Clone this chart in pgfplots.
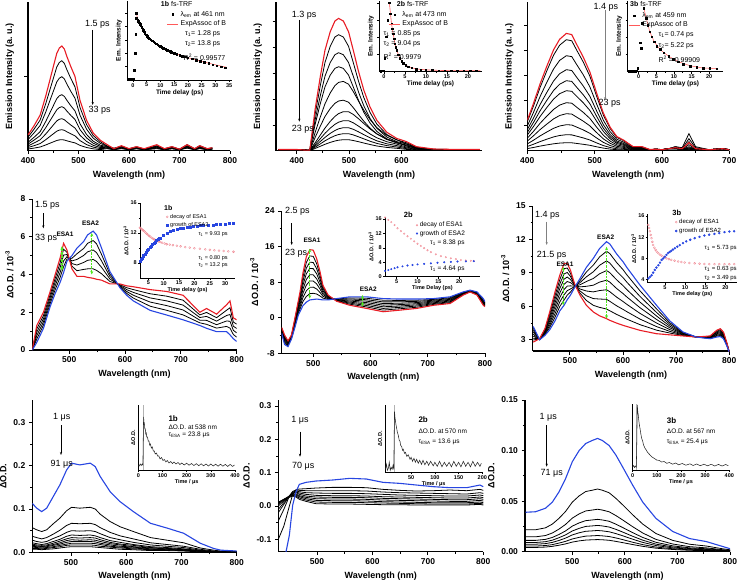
\documentclass[border=0pt]{standalone}
\usepackage{fontspec}
\setmainfont{Liberation Sans}
\usepackage{pgfplots}
\pgfplotsset{compat=1.18}
\usepackage{pgfplotstable}
\usetikzlibrary{arrows.meta}

\definecolor{myred}{RGB}{232,28,36}
\definecolor{myblue}{RGB}{40,70,225}
\definecolor{mypink}{RGB}{240,140,150}
\definecolor{mygreen}{RGB}{80,230,30}

% ---- row 1: fs-TRF emission (y in px above baseline)
\pgfplotstableread{
x r b1 b2 b3 b4 b5 b6 b7
400 15.7 13.5 11.1 8.4 6.6 4.8 3.2 1.7
412 25 21.6 17.8 13.4 10.6 7.7 5.0 2.6
424 35.6 30.6 25.2 19.0 15.0 10.9 7.1 3.7
435 54.4 46.8 38.5 29.1 22.9 16.6 10.9 5.7
443 70 60.3 49.6 37.5 29.5 21.4 14.1 7.4
450 83.8 72 59.2 44.8 35.2 25.6 16.8 8.8
457 97.4 83.7 68.8 52.1 40.9 29.8 19.5 10.2
462 102.6 88.2 72.5 54.9 43.1 31.4 20.6 10.8
467 104.7 90 74 56 44 32 21 11
472 101.6 87.3 71.8 54.3 42.7 31.0 20.4 10.7
477 94.2 81 66.6 50.4 39.6 28.8 18.9 9.9
485 83.8 72 59.2 44.8 35.2 25.6 16.8 8.8
493 74.3 63.9 52.5 39.8 31.2 22.7 14.9 7.8
503 50.3 43.2 35.5 26.9 21.1 15.4 10.1 5.3
516 30.4 26.1 21.5 16.2 12.8 9.3 6.1 3.2
529 17.8 15.3 12.6 9.5 7.5 5.4 3.6 1.9
543 10.5 9 7.4 5.6 4.4 3.2 2.1 1.1
556 6.3 5 4.5 4 3.5 3 2.5 2
570 2 2.5 2 2 1.5 1.5 1 1
585 5 4.5 4 3.5 3 3 2.5 2
600 2 2 1.5 1.5 1.5 1 1 1
615 4 4 3.5 3 3 2.5 2 2
630 2 1.5 1.5 1 1 1 1 1
655 6 5 4.5 4 3.5 3 2.5 2
670 2 2 1.5 1.5 1 1 1 1
685 4 4 3.5 3 3 2.5 2 2
700 1.5 1.5 1.5 1 1 1 1 1
715 6 6 5 4.5 4 3.5 3 2.5
730 2 2 1.5 1.5 1 1 1 1
740 5 5 4.5 4 3.5 3 2.5 2
755 2 2 1.5 1.5 1 1 1 1
765 3 3 2.5 2.5 2 2 1.5 1.5
}\tabA

\pgfplotstableread{
x r b1 b2 b3 b4 b5 b6 b7 b8 b9 b10
365 1.2 1.2 1.2 1.2 1.2 1.2 1.2 1.2 1.2 1.2 1.2
400 1.2 1.2 1.2 1.2 1.2 1.2 1.2 1.2 1.2 1.2 1.2
420 0.5 0.5 0.5 0.5 0.5 0.5 0.5 0.5 0.5 0.5 0.5
425 0.7 0.6 0.5 0.4 0.5 0.4 0.4 0.3 0.2 0.2 0.1
435 41 36 30.4 26 17.9 13 7.8 6 4.6 3.4 2.2
445 74 65 54.9 47 33.6 24.5 15.6 12 9.2 6.8 4.4
454 100.5 88.2 74.5 63.8 46.9 34.2 22.6 17.4 13.3 9.9 6.4
464 119 104.4 88.2 75.6 57.8 42.1 29.3 22.5 17.3 12.8 8.3
473 129.7 113.7 96 82.3 65.1 47.4 34.3 26.4 20.2 15 9.7
480 132.3 116 98 84 68.3 49.7 37.1 28.5 21.9 16.2 10.5
489 129.7 113.7 96 82.3 69.3 50.5 39 30 23 17 11
499 119 104.4 88.2 75.6 66.5 48.5 39 30 23 17 11
508 100.5 88.2 74.5 63.8 59.2 43.1 36.3 27.9 21.4 15.8 10.2
518 79.4 69.6 58.8 50.4 49.7 36.2 32 24.6 18.9 13.9 9
528 60.9 53.4 45.1 38.6 40.6 29.6 27.3 21 16.1 11.9 7.7
540 43.7 38.3 32.3 27.7 31.2 22.7 21.8 16.8 12.9 9.5 6.2
553 30.4 26.7 22.5 19.3 23.1 16.8 16.8 12.9 9.9 7.3 4.7
572 18.5 16.2 13.7 11.8 15.4 11.2 11.7 9 6.9 5.1 3.3
591 12.3 10.8 9.1 7.8 11 8 8.6 6.6 5.1 3.7 2.4
610 9 7.9 6.7 5.7 6.6 4.8 4.7 3.6 2.8 2 1.3
629 4 3.5 2.9 2.5 3.2 2.3 2.3 1.8 1.4 1 0.7
661 1.7 1.5 1.3 1.1 1.2 0.9 0.8 0.6 0.5 0.3 0.2
700 1.3 1.2 1 0.8 0.9 0.7 0.6 0.5 0.3 0.3 0.2
750 1.3 1.2 1 0.8 0.7 0.5 0.4 0.3 0.2 0.2 0.1
}\tabB

\pgfplotstableread{
x r b1 b2 b3 b4 b5 b6 b7 b8 b9 b10
400 30.5 28.9 24.7 21.1 18.2 15.6 12.5 9.6 6.8 4.2 2.1
409 46.9 44.4 38 32.4 28 24 19.2 14.8 10.4 6.4 3.2
419 66.9 63.3 54.2 46.2 39.9 34.2 27.4 21.1 14.8 9.1 4.6
429 84.5 79.9 68.4 58.3 50.4 43.2 34.6 26.6 18.7 11.5 5.8
439 100.9 95.5 81.7 69.7 60.2 51.6 41.3 31.8 22.4 13.8 6.9
448 111.4 105.5 90.3 77 66.5 57 45.6 35.2 24.7 15.2 7.6
458 117.3 111 95 81 70 60 48 37 26 16 8
466 116.1 109.9 94.1 80.2 69.3 59.4 47.5 36.6 25.7 15.8 7.9
473 106.7 101 86.5 73.7 63.7 54.6 43.7 33.7 23.7 14.6 7.3
483 93.8 88.8 76 64.8 56 48 38.4 29.6 20.8 12.8 6.4
493 78.6 74.4 63.7 54.3 46.9 40.2 32.2 24.8 17.4 10.7 5.4
503 57.5 54.4 46.6 39.7 34.3 29.4 23.5 18.1 12.7 7.8 3.9
513 37.5 35.5 30.4 25.9 22.4 19.2 15.4 11.8 8.3 5.1 2.6
523 23.5 22.2 19 16.2 14 12 9.6 7.4 5.2 3.2 1.6
533 14.1 13.3 11.4 9.7 8.4 7.2 5.8 4.4 3.1 1.9 1
543 10.6 10 8.6 7.3 6.3 5.4 4.3 3.3 2.3 1.4 0.7
548 8.2 7.8 6.7 5.7 4.9 4.2 3.4 2.6 1.8 1.1 0.6
557 4.1 3.9 3.3 2.8 2.5 2.1 1.7 1.3 0.9 0.6 0.3
570 4.1 3.9 3.3 2.8 2.5 2.1 1.7 1.3 0.9 0.6 0.3
582 1.2 1.1 1 0.8 0.7 0.6 0.5 0.4 0.3 0.2 0.1
590 1.5 1.5 1.5 1.5 1.5 1.5 1.5 1.5 1.5 1.5 1.5
600 1 1.2 1 1 1 1 1 1 1 1 1
610 2 2 2 2 2 2 2 2 2 2 2
620 3 4 4 3 3 2 2 2 2 2 2
630 2 3 2 1.5 1.5 1.5 1.5 1.5 1.5 1.5 1.5
640 8 17 12 9 6 4 3 2.5 2 1.5 1
650 2 4 3 2 1.5 1.5 1.5 1.5 1.5 1.5 1.5
670 1 1 1 1 1 1 1 1 1 1 1
690 2 2 2 2 2 2 2 2 2 2 2
700 1 1 1 1 1 1 1 1 1 1 1
}\tabC

% ---- row 2: fs-TA
\pgfplotstableread{
x r b1 b2 b3 b4 bl
434 0 0 0 0 0 0
442 1.3 1.12 0.94 0.76 0.58 0.4
454 2.0 1.83 1.66 1.49 1.32 1.15
466 3.1 2.94 2.78 2.62 2.46 2.3
475 4.0 3.8 3.6 3.4 3.2 3.0
484 4.9 4.64 4.38 4.12 3.86 3.6
490 5.65 5.34 5.03 4.72 4.41 4.1
496 5.3 5.18 5.06 4.94 4.82 4.7
505 4.3 4.44 4.58 4.72 4.86 5.0
514 3.9 4.2 4.5 4.8 5.1 5.4
526 3.9 4.27 4.64 5.01 5.38 5.75
533 3.85 4.3 4.75 5.2 5.65 6.1
543 3.8 4.3 4.8 5.3 5.8 6.3
549 3.75 4.22 4.69 5.16 5.63 6.1
558 3.7 4.04 4.38 4.72 5.06 5.4
573 3.5 3.63 3.76 3.89 4.02 4.15
591 3.5 3.46 3.42 3.38 3.34 3.3
603 3.4 3.3 3.2 3.1 3.0 2.9
615 3.35 3.2 3.05 2.9 2.75 2.6
645 3.2 2.98 2.76 2.54 2.32 2.1
675 3.1 2.85 2.6 2.35 2.1 1.85
704 2.9 2.64 2.38 2.12 1.86 1.6
734 2.0 1.86 1.72 1.58 1.44 1.3
746 2.2 1.99 1.78 1.57 1.36 1.15
764 1.9 1.71 1.53 1.34 1.16 0.97
782 2.4 2.11 1.83 1.54 1.25 0.97
788 2.6 2.24 1.88 1.52 1.16 0.8
794 1.7 1.48 1.26 1.04 0.82 0.6
800 1.6 1.37 1.14 0.91 0.68 0.45
}\tabD

\pgfplotstableread{
x r b1 b2 b3 b4 b5 b6 b7 bl
445 -2.2 -2.36 -2.53 -2.69 -2.85 -3.01 -3.18 -3.34 -3.5
450 -3.9 -4.16 -4.43 -4.69 -4.95 -5.21 -5.48 -5.74 -6.0
456 -5.2 -5.36 -5.53 -5.69 -5.85 -6.01 -6.18 -6.34 -6.5
462 -3.9 -4.01 -4.13 -4.24 -4.35 -4.46 -4.58 -4.69 -4.8
468 -0.15 -0.41 -0.66 -0.92 -1.18 -1.43 -1.69 -1.94 -2.2
474 3.8 3.4 3.0 2.6 2.2 1.8 1.4 1.0 0.6
477 5.8 5.25 4.7 4.15 3.6 3.05 2.5 1.95 1.4
482 10 9.09 8.18 7.26 6.35 5.44 4.53 3.61 2.7
488 13.7 12.43 11.15 9.88 8.6 7.33 6.05 4.78 3.5
494 15.3 13.89 12.48 11.06 9.65 8.24 6.83 5.41 4.0
500 15.2 13.81 12.43 11.04 9.65 8.26 6.88 5.49 4.1
506 13.3 12.16 11.03 9.89 8.75 7.61 6.48 5.34 4.2
512 10.3 9.53 8.75 7.98 7.2 6.43 5.65 4.88 4.1
517 7.3 6.89 6.48 6.06 5.65 5.24 4.83 4.41 4.0
526 5.1 4.96 4.83 4.69 4.55 4.41 4.28 4.14 4.0
541 3.7 3.78 3.85 3.93 4.0 4.08 4.15 4.23 4.3
564 2.8 3.04 3.28 3.51 3.75 3.99 4.23 4.46 4.7
593 2.1 2.43 2.75 3.08 3.4 3.73 4.05 4.38 4.7
622 1.35 1.72 2.09 2.46 2.83 3.19 3.56 3.93 4.3
651 1.7 2.01 2.33 2.64 2.95 3.26 3.58 3.89 4.2
681 2.1 2.36 2.63 2.89 3.15 3.41 3.68 3.94 4.2
710 2.8 2.99 3.18 3.36 3.55 3.74 3.93 4.11 4.3
739 3.2 3.39 3.58 3.76 3.95 4.14 4.33 4.51 4.7
762 5.1 5.19 5.28 5.36 5.45 5.54 5.63 5.71 5.8
774 5.8 5.85 5.9 5.95 6.0 6.05 6.1 6.15 6.2
786 5.1 5.19 5.28 5.36 5.45 5.54 5.63 5.71 5.8
797 2.8 2.99 3.18 3.36 3.55 3.74 3.93 4.11 4.3
800 2.5 2.64 2.78 2.91 3.05 3.19 3.33 3.46 3.6
}\tabE

\pgfplotstableread{
x r b1 b2 b3 b4 b5 b6 b7 bl
431 2.8 2.98 3.15 3.33 3.5 3.68 3.85 4.03 4.2
443 3.1 3.09 3.08 3.06 3.05 3.04 3.03 3.01 3.0
453 4.0 3.93 3.85 3.78 3.7 3.63 3.55 3.48 3.4
462 5.5 5.3 5.1 4.9 4.7 4.5 4.3 4.1 3.9
472 7.3 6.98 6.65 6.33 6.0 5.68 5.35 5.03 4.7
481 8.8 8.4 8.0 7.6 7.2 6.8 6.4 6.0 5.6
489 9.85 9.38 8.91 8.44 7.98 7.51 7.04 6.57 6.1
495 9.85 9.44 9.04 8.63 8.23 7.82 7.41 7.01 6.6
501 9.25 8.97 8.69 8.41 8.13 7.84 7.56 7.28 7.0
509 8.0 7.96 7.93 7.89 7.85 7.81 7.78 7.74 7.7
519 7.0 7.19 7.38 7.56 7.75 7.94 8.13 8.31 8.5
531 6.1 6.53 6.95 7.38 7.8 8.23 8.65 9.08 9.5
544 5.5 6.1 6.7 7.3 7.9 8.5 9.1 9.7 10.3
556 5.15 5.91 6.66 7.42 8.18 8.93 9.69 10.44 11.2
569 4.9 5.76 6.63 7.49 8.35 9.21 10.08 10.94 11.8
575 4.75 5.61 6.46 7.32 8.18 9.03 9.89 10.74 11.6
588 4.5 5.28 6.05 6.83 7.6 8.38 9.15 9.93 10.7
600 4.3 5.01 5.73 6.44 7.15 7.86 8.58 9.29 10.0
607 4.2 4.86 5.53 6.19 6.85 7.51 8.18 8.84 9.5
632 3.85 4.36 4.86 5.37 5.88 6.38 6.89 7.39 7.9
663 3.55 3.87 4.19 4.51 4.83 5.14 5.46 5.78 6.1
688 3.45 3.61 3.76 3.92 4.08 4.23 4.39 4.54 4.7
713 3.35 3.39 3.44 3.48 3.53 3.57 3.61 3.66 3.7
738 3.25 3.25 3.25 3.25 3.25 3.25 3.25 3.25 3.25
764 3.35 3.32 3.29 3.26 3.23 3.19 3.16 3.13 3.1
776 3.85 3.78 3.7 3.63 3.55 3.48 3.4 3.33 3.25
783 4.0 3.91 3.83 3.74 3.65 3.56 3.48 3.39 3.3
789 3.7 3.63 3.55 3.48 3.4 3.33 3.25 3.18 3.1
795 2.8 2.76 2.73 2.69 2.65 2.61 2.58 2.54 2.5
800 1.9 1.9 1.9 1.9 1.9 1.9 1.9 1.9 1.9
}\tabF

% ---- row 3: ns-TA
\pgfplotstableread{
x bl b1 b2 b3 b4 b5 b6 b7 b8 b9 b10
430 0.113 0.057 0.037 0.028 0.022 0.019 0.016 0.014 0.012 0.009 0.007
438 0.102 0.052 0.034 0.025 0.020 0.017 0.015 0.013 0.011 0.009 0.007
447 0.094 0.048 0.031 0.023 0.018 0.016 0.013 0.012 0.010 0.008 0.006
456 0.102 0.052 0.034 0.025 0.020 0.017 0.015 0.013 0.011 0.009 0.007
468 0.129 0.066 0.042 0.032 0.025 0.021 0.018 0.016 0.013 0.011 0.008
480 0.156 0.079 0.051 0.038 0.030 0.026 0.022 0.019 0.016 0.013 0.010
492 0.190 0.096 0.062 0.046 0.037 0.031 0.027 0.023 0.019 0.016 0.012
501 0.206 0.104 0.067 0.050 0.040 0.034 0.029 0.025 0.021 0.017 0.013
516 0.202 0.102 0.066 0.049 0.039 0.033 0.028 0.025 0.021 0.017 0.013
535 0.206 0.104 0.067 0.050 0.040 0.034 0.029 0.025 0.021 0.017 0.013
544 0.198 0.100 0.064 0.048 0.038 0.033 0.028 0.024 0.020 0.016 0.012
553 0.175 0.088 0.057 0.043 0.034 0.029 0.025 0.021 0.018 0.014 0.011
571 0.140 0.071 0.046 0.034 0.027 0.023 0.020 0.017 0.014 0.012 0.009
589 0.117 0.059 0.038 0.029 0.023 0.019 0.017 0.014 0.012 0.010 0.007
613 0.094 0.048 0.031 0.023 0.018 0.016 0.013 0.012 0.010 0.008 0.006
644 0.067 0.034 0.022 0.017 0.013 0.011 0.010 0.008 0.007 0.006 0.004
674 0.056 0.028 0.018 0.014 0.011 0.009 0.008 0.007 0.006 0.005 0.004
704 0.044 0.022 0.014 0.011 0.008 0.007 0.006 0.005 0.004 0.004 0.003
734 0.021 0.010 0.007 0.005 0.004 0.003 0.003 0.003 0.002 0.002 0.001
758 0.009 0.005 0.003 0.002 0.002 0.002 0.001 0.001 0.001 0.001 0.001
771 0.005 0.003 0.002 0.001 0.001 0.001 0.001 0.001 0.001 0.000 0.000
800 0.003 0.002 0.001 0.001 0.001 0.001 0.000 0.000 0.000 0.000 0.000
}\tabG

\pgfplotstableread{
x bl b1 b2 b3 b4 b5 b6 b7 b8 b9
430 -0.30 -0.100 -0.045 -0.020 -0.010 0.000 0.005 0.008 0.010 0.012
440 -0.17 -0.060 -0.010 0.005 0.010 0.015 0.018 0.020 0.020 0.020
450 -0.087 0.000 0.030 0.030 0.030 0.030 0.030 0.030 0.028 0.026
456 0.003 0.035 0.044 0.042 0.039 0.037 0.035 0.034 0.032 0.030
462 0.043 0.049 0.048 0.045 0.042 0.040 0.036 0.033 0.030 0.027
468 0.065 0.051 0.047 0.043 0.039 0.035 0.031 0.028 0.024 0.020
480 0.071 0.052 0.046 0.040 0.035 0.030 0.026 0.022 0.018 0.014
498 0.075 0.054 0.046 0.039 0.032 0.027 0.022 0.017 0.012 0.007
528 0.078 0.056 0.046 0.038 0.031 0.026 0.021 0.016 0.011 0.006
559 0.083 0.056 0.046 0.038 0.031 0.026 0.021 0.016 0.011 0.006
589 0.081 0.055 0.045 0.037 0.030 0.025 0.020 0.015 0.010 0.005
619 0.071 0.050 0.042 0.035 0.028 0.023 0.018 0.013 0.009 0.004
649 0.068 0.047 0.040 0.033 0.027 0.022 0.017 0.012 0.008 0.004
679 0.063 0.045 0.039 0.032 0.026 0.021 0.016 0.011 0.007 0.003
710 0.058 0.046 0.038 0.031 0.025 0.020 0.015 0.010 0.006 0.003
740 0.055 0.048 0.037 0.030 0.024 0.019 0.014 0.010 0.006 0.003
770 0.055 0.046 0.036 0.030 0.024 0.019 0.014 0.010 0.006 0.003
794 0.063 0.050 0.040 0.033 0.027 0.022 0.017 0.012 0.008 0.005
800 0.058 0.047 0.038 0.031 0.025 0.020 0.015 0.010 0.006 0.003
}\tabH

\pgfplotstableread{
x bl b1 b2 b3 b4 b5 b6 b7
411 0.039 0.0217 0.0147 0.0112 0.0091 0.0074 0.0056 0.0042
430 0.0395 0.0217 0.0147 0.0112 0.0091 0.0074 0.0056 0.0042
449 0.043 0.0236 0.016 0.0122 0.0099 0.008 0.0061 0.0046
462 0.049 0.0273 0.0185 0.0141 0.0114 0.0092 0.007 0.0053
474.5 0.059 0.0329 0.0223 0.017 0.0138 0.0111 0.0085 0.0064
487 0.072 0.0397 0.0269 0.0205 0.0166 0.0134 0.0102 0.0077
500 0.089 0.049 0.0332 0.0253 0.0205 0.0166 0.0126 0.0095
513 0.100 0.0552 0.0374 0.0285 0.0231 0.0187 0.0142 0.0107
525.5 0.107 0.0595 0.0403 0.0307 0.025 0.0202 0.0154 0.0115
538 0.110 0.0608 0.0412 0.0314 0.0255 0.0206 0.0157 0.0118
548 0.112 0.062 0.042 0.032 0.026 0.021 0.016 0.012
557 0.110 0.0608 0.0412 0.0314 0.0255 0.0206 0.0157 0.0118
570 0.105 0.0583 0.0395 0.0301 0.0244 0.0197 0.015 0.0113
583 0.0955 0.0527 0.0357 0.0272 0.0221 0.0179 0.0136 0.0102
595.5 0.084 0.0465 0.0315 0.024 0.0195 0.0158 0.012 0.009
614.6 0.066 0.0366 0.0248 0.0189 0.0153 0.0124 0.0094 0.0071
634 0.049 0.0273 0.0185 0.0141 0.0114 0.0092 0.007 0.0053
659 0.033 0.018 0.0122 0.0093 0.0075 0.0061 0.0046 0.0035
691 0.020 0.0112 0.0076 0.0058 0.0047 0.0038 0.0029 0.0022
723 0.013 0.0074 0.005 0.0038 0.0031 0.0025 0.0019 0.0014
755 0.010 0.0056 0.0038 0.0029 0.0023 0.0019 0.0014 0.0011
787 0.005 0.0028 0.0019 0.0014 0.0012 0.0009 0.0007 0.0005
800 0.003 0.0019 0.0013 0.001 0.0008 0.0006 0.0005 0.0004
}\tabI

\pgfplotsset{
  mainax/.style={scale only axis, anchor=south west, axis lines*=left,
    axis line style={line width=1.1pt}, tick style={black, line width=0.9pt},
    tick align=outside, major tick length=3.5pt, minor tick length=2pt,
    tick label style={font=\fontsize{8.5}{9}\selectfont\bfseries},
    label style={font=\fontsize{9}{10}\selectfont\bfseries},
    xlabel={Wavelength (nm)}, minor x tick num=1,
    /pgf/number format/assume math mode=true},
  insetax/.style={scale only axis, anchor=south west, axis lines*=left,
    axis line style={line width=0.6pt}, tick style={black, line width=0.5pt},
    tick align=outside, major tick length=2pt, minor tick length=1.2pt,
    tick label style={font=\fontsize{5.5}{6}\selectfont\bfseries, inner sep=1pt},
    label style={font=\fontsize{6.5}{7}\selectfont\bfseries, inner sep=1pt},
    /pgf/number format/assume math mode=true, legend cell align=left,
    legend image code/.code={\draw[mark repeat=2,mark phase=2,##1]
      plot coordinates {(0cm,0cm) (0.2cm,0cm) (0.4cm,0cm)};},
    legend style={draw=none, fill=none, inner sep=0pt, row sep=-1pt,
      font=\fontsize{7}{8}\selectfont}},
  blk/.style={black, line width=0.8pt, no marks},
  rd/.style={myred, line width=1.1pt, no marks},
  bu/.style={myblue, line width=1.1pt, no marks},
  trace/.style={black!85, line width=0.55pt, no marks},
}
\tikzset{
  ann/.style={inner sep=0pt, font=\fontsize{9}{10}\selectfont},
  sm/.style={inner sep=0pt, font=\fontsize{7}{8}\selectfont},
  xs/.style={inner sep=0pt, font=\fontsize{5.5}{6}\selectfont},
  esa/.style={inner sep=0pt, font=\fontsize{6.5}{7}\selectfont\bfseries},
  arr/.style={line width=0.5pt, -{Stealth[length=3pt,width=2.2pt]}},
  grn/.style={mygreen, line width=1.3pt, dash pattern=on 2.5pt off 1pt,
    {Stealth[length=3.5pt,width=3pt]}-{Stealth[length=3.5pt,width=3pt]}},
}

\begin{document}
\begin{tikzpicture}
\useasboundingbox (0,0) rectangle (738pt,582pt);

% ================= row 1 =================
\begin{axis}[mainax, at={(28pt,431.3pt)}, width=202pt, height=148.7pt,
  xmin=400, xmax=800, ymin=0, ymax=148.7, xtick={400,500,...,800},
  ytick={74.7}, yticklabels={}, ylabel={Emission Intensity (a.\ u.)}]
\pgfplotsinvokeforeach{b1,b2,b3,b4,b5,b6,b7}{\addplot[blk] table[x=x,y=#1]{\tabA};}
\addplot[rd] table[x=x,y=r]{\tabA};
\end{axis}

\begin{axis}[insetax, at={(127.3pt,502pt)}, width=104.7pt, height=79pt,
  xmin=-2, xmax=36, ymin=0, ymax=79, xtick={0,5,...,35}, minor x tick num=1,
  ytick={13.3,26.7,40,53.3,66.7}, yticklabels={},
  xlabel={Time delay (ps)}, ylabel={Em. Intensity},
  legend style={at={(0.375,0.9)}, anchor=north west}]
\addplot[only marks, mark=square*, mark size=0.75pt, black] coordinates {
(-1.6,0.6) (-1.2,0.8) (-0.8,0.6) (-0.4,0.9) (0,0.8) (0.3,1.2) (0.5,10) (0.8,26.7)
(1.0,45.7) (1.2,61.7) (1.3,66.7) (1.5,62) (1.7,60.5) (2.0,59) (2.3,57.5) (2.6,56)
(2.9,54.5) (3.2,53) (3.5,51.5) (3.8,50) (4.1,48.5) (4.4,47) (4.8,45.5) (5.2,44)
(5.6,42.5) (6.0,41.3) (6.5,40.2) (7.0,39.2) (7.5,38.2) (8.0,37.2) (8.5,36.3)
(9.0,35.4) (9.5,34.5) (10,33.6) (10.5,32.8) (11,32) (11.5,31.3) (12,30.6)
(12.5,29.9) (13,29.2) (13.5,28.6) (14,28) (15,26.9) (16,25.9) (17,25) (18,24)
(19,23.2) (20,22.4) (21.5,21.2) (23,20) (24.5,19) (26,18) (27.5,16.8) (29,15.5)
(30.5,14.3) (32,13.3) (33.5,12.3)};
\addlegendentry{λ\textsubscript{em} at 461 nm}
\addplot[red!65, line width=0.5pt, no marks] coordinates {
(1.3,66) (2,59.5) (3,54) (4,49) (5,44.7) (6,41.3) (8,37.2) (10,33.6) (12,30.6)
(14,28) (16,25.9) (18,24) (20,22.4) (22,20.8) (24,19.3) (26,17.9) (28,16.5)
(30,15.2) (32,14) (34,12.8)};
\addlegendentry{ExpAssoc of B}
\end{axis}

\begin{axis}[mainax, at={(276pt,431.3pt)}, width=206pt, height=148.7pt,
  xmin=360.4, xmax=754, ymin=0, ymax=148.7, xtick={400,500,600},
  ytick={25.7,51.7,77.3,103.7,129.3}, yticklabels={},
  ylabel={Emission Intensity (a.\ u.)}]
\pgfplotsinvokeforeach{b1,b2,b3,b4,b5,b6,b7,b8,b9,b10}{\addplot[blk] table[x=x,y=#1]{\tabB};}
\addplot[rd] table[x=x,y=r]{\tabB};
\end{axis}

\begin{axis}[insetax, at={(379.3pt,510.3pt)}, width=102.4pt, height=70.7pt,
  xmin=-1.1, xmax=23.3, ymin=0, ymax=70.7, xtick={0,5,...,20}, minor x tick num=1,
  ytick={17,34,51,68}, yticklabels={},
  xlabel={Time delay (ps)}, ylabel={Em. Intensity},
  legend style={at={(0.088,0.887)}, anchor=north west}]
\addplot[only marks, mark=square*, mark size=0.75pt, black] coordinates {
(-0.8,0.7) (-0.4,0.8) (0,0.9) (0.24,13.3) (0.6,35) (0.9,51.7) (1.3,69) (1.55,58)
(1.8,48) (2.0,43) (2.2,38) (2.4,33) (2.6,28) (2.8,24.5) (3.0,21.7) (3.4,17)
(3.8,13.3) (4.2,10.5) (4.6,8.3) (5.2,6.5) (5.8,5) (6.6,3.8) (7.7,2.7) (8.8,2.1)
(10,1.7) (11.5,1.4) (13,1.2) (14.5,1.1) (16,1.0) (17.5,1.0) (19,1.0) (20.5,1.0) (22,1.0)};
\addlegendentry{λ\textsubscript{em} at 473 nm}
\addplot[red!65, line width=0.6pt, no marks] coordinates {
(1.3,69) (1.8,48) (2.2,38) (2.6,29) (3,22) (3.8,13.5) (4.6,8.5) (5.8,5) (7.7,2.8)
(10,1.8) (14,1.2) (18,1.0) (23,1.0)};
\addlegendentry{ExpAssoc of B}
\end{axis}

\begin{axis}[mainax, at={(527.3pt,431.3pt)}, width=202pt, height=148.7pt,
  xmin=400, xmax=700, ymin=0, ymax=148.7, xtick={400,500,600,700},
  ytick={25.7,50.7,75,100.7,125.7}, yticklabels={},
  ylabel={Emission Intensity (a.\ u.)}]
\pgfplotsinvokeforeach{b1,b2,b3,b4,b5,b6,b7,b8,b9,b10}{\addplot[blk] table[x=x,y=#1]{\tabC};}
\addplot[rd] table[x=x,y=r]{\tabC};
\end{axis}

\begin{axis}[insetax, at={(627.7pt,510.3pt)}, width=95.6pt, height=70.7pt,
  xmin=-3.1, xmax=24, ymin=0, ymax=70.7, xtick={0,5,...,20}, minor x tick num=1,
  ytick={17,34,51,68}, yticklabels={},
  xlabel={Time delay (ps)}, ylabel={Em. Intensity},
  legend style={at={(0.006,0.873)}, anchor=north west}]
\addplot[only marks, mark=square*, mark size=0.75pt, black] coordinates {
(-2.8,0.7) (-2.2,0.7) (-1.6,0.7) (-1.0,0.7) (-0.5,0.8) (-0.2,3.3) (0.5,29)
(0.66,23.3) (0.94,48.3) (1.5,63.3) (2.16,53.3) (2.54,46.7) (3.1,40) (3.76,35)
(4.41,30) (5.16,25.7) (6.1,22.3) (7.04,19) (8.45,15.7) (9.86,12.3) (11.27,10)
(12.68,7.7) (14.55,5.7) (16.4,4.3) (18.3,3.3) (20.2,3.3) (22.1,3)};
\addlegendentry{λ\textsubscript{em} at 459 nm}
\addplot[red!65, line width=0.5pt, no marks] coordinates {
(1.5,63) (2.2,53) (3.1,40.5) (4.4,30) (6.1,22) (8.5,15.5) (11.3,10) (14.5,6)
(18,3.8) (22,3)};
\addlegendentry{ExpAssoc of B}
\end{axis}

% ================= row 2 =================
\begin{axis}[mainax, at={(32.3pt,232pt)}, width=204.4pt, height=151pt,
  xmin=434, xmax=800, ymin=0, ymax=8, xtick={500,600,700,800},
  ytick={0,2,4,6,8}, minor y tick num=1,
  ylabel={ΔO.D. / 10\textsuperscript{-3}}]
\pgfplotsinvokeforeach{b1,b2,b3,b4}{\addplot[blk] table[x=x,y=#1]{\tabD};}
\addplot[rd] table[x=x,y=r]{\tabD};
\addplot[bu] table[x=x,y=bl]{\tabD};
\draw[grn] (axis cs:487,4.2) -- (axis cs:487,5.5);
\draw[grn] (axis cs:540.5,4.0) -- (axis cs:540.5,6.2);
\end{axis}

\begin{axis}[insetax, at={(140pt,304pt)}, width=95pt, height=75pt,
  xmin=2.3, xmax=33.2, ymin=6, ymax=16, xtick={5,10,...,30},
  ytick={8,12,16}, minor y tick num=1,
  xlabel={Time delay (ps)}, ylabel={ΔO.D. / 10\textsuperscript{-3}},
  label style={font=\fontsize{5.5}{6}\selectfont\bfseries},
  legend style={at={(0.274,0.88)}, anchor=north west, font=\fontsize{5.5}{6}\selectfont}]
\addplot[only marks, mark=o, mark size=1pt, mypink] coordinates {
(2.3,12.7) (2.6,12.6) (2.9,12.5) (3.2,12.4) (3.5,12.3) (3.8,12.2) (4.1,12.05)
(4.5,11.9) (4.9,11.75) (5.3,11.6) (5.7,11.5) (6.1,11.35) (6.5,11.25) (6.9,11.15)
(7.3,11.05) (7.7,10.95) (8.1,10.9) (8.5,10.85) (8.9,10.8) (9.5,10.7) (10.3,10.6)
(11,10.5) (12,10.45) (13,10.38) (14.3,10.3) (15.5,10.22) (17,10.12) (18.5,10.05)
(20,9.97) (21.8,9.9) (23.5,9.82) (25,9.76) (26.5,9.7) (28,9.65) (29.5,9.6)
(31,9.55) (32.7,9.5)};
\addlegendentry{decay of ESA1}
\addplot[only marks, mark=square*, mark size=1pt, myblue] coordinates {
(2.3,8.3) (2.6,8.5) (2.9,8.7) (3.2,8.85) (3.5,9.0) (3.9,9.2) (4.3,9.45) (4.7,9.65)
(5.1,9.85) (5.6,10.1) (6.0,10.3) (6.4,10.5) (6.8,10.65) (7.2,10.8) (7.7,11.0)
(8.1,11.15) (8.5,11.25) (8.9,11.35) (9.9,11.7) (11,11.95) (12.1,12.2) (13.2,12.4)
(14.3,12.5) (15.3,12.6) (16.4,12.7) (17.5,12.75) (18.6,12.8) (19.7,12.9)
(20.8,12.95) (21.8,13.0) (23,13.02) (24.5,13.05) (26,13.1) (27.2,13.12)
(28.5,13.17) (30,13.2) (31.3,13.25) (32.7,13.3)};
\addlegendentry{growth of ESA2}
\end{axis}

\begin{axis}[mainax, at={(281.7pt,228.7pt)}, width=203.3pt, height=142.3pt,
  xmin=445, xmax=800, ymin=-8, ymax=24, xtick={500,600,700,800},
  ytick={-8,0,8,16,24}, minor y tick num=1,
  ylabel={ΔO.D. / 10\textsuperscript{-3}}]
\pgfplotsinvokeforeach{b1,b2,b3,b4,b5,b6,b7}{\addplot[blk] table[x=x,y=#1]{\tabE};}
\addplot[rd] table[x=x,y=r]{\tabE};
\addplot[bu] table[x=x,y=bl]{\tabE};
\draw[grn] (axis cs:494,4.3) -- (axis cs:494,15.5);
\draw[grn] (axis cs:586,2.5) -- (axis cs:586,5.1);
\end{axis}

\begin{axis}[insetax, at={(385pt,305.3pt)}, width=95pt, height=60pt,
  xmin=2.2, xmax=25, ymin=0, ymax=16.6, xtick={5,10,15,20},
  ytick={0,4,8,12,16},
  xlabel={Time Delay (ps)}, ylabel={ΔO.D. / 10\textsuperscript{-3}},
  label style={font=\fontsize{5.5}{6}\selectfont\bfseries},
  legend style={at={(0.326,0.945)}, anchor=north west, row sep=-2pt, font=\fontsize{6.5}{7}\selectfont}]
\addplot[only marks, mark=o, mark size=0.8pt, mypink] coordinates {
(2.2,16.4) (3,15.7) (3.7,15.1) (4.5,14.3) (5.2,13.4) (6,12.6) (6.8,11.9) (7.6,11.2)
(8.4,10.5) (9.2,9.8) (10,9.1) (10.8,8.5) (11.6,7.9) (12.4,7.3) (13.2,6.8)
(14.4,6.2) (15.6,5.7) (16.8,5.4) (18,5.1) (19.2,4.85) (20.4,4.6) (21.6,4.5)
(22.8,4.4) (23.5,4.35)};
\addlegendentry{decay of ESA1}
\addplot[only marks, mark=*, mark size=0.8pt, myblue] coordinates {
(2.2,1.6) (3,1.85) (3.7,2.1) (4.5,2.35) (5.2,2.6) (6.4,2.85) (7.6,3.1) (8.8,3.25)
(10,3.4) (11.6,3.55) (13.2,3.7) (14.8,3.85) (16.4,4.0) (18,4.1) (19.6,4.2)
(21.6,4.25) (23.5,4.3)};
\addlegendentry{growth of ESA2}
\end{axis}

\begin{axis}[mainax, at={(532.7pt,231pt)}, width=196.6pt, height=145pt,
  xmin=430, xmax=800, ymin=2, ymax=15, xtick={500,600,700,800},
  ytick={3,6,9,12,15}, minor y tick num=1,
  ylabel={ΔO.D. / 10\textsuperscript{-3}}]
\pgfplotsinvokeforeach{b1,b2,b3,b4,b5,b6,b7}{\addplot[blk] table[x=x,y=#1]{\tabF};}
\addplot[rd] table[x=x,y=r]{\tabF};
\addplot[bu] table[x=x,y=bl]{\tabF};
\draw[grn] (axis cs:487.4,6.1) -- (axis cs:487.4,9.55);
\draw[grn] (axis cs:569,4.9) -- (axis cs:569,11.35);
\end{axis}

\begin{axis}[insetax, at={(647.7pt,299.3pt)}, width=89.3pt, height=68.4pt,
  xmin=0.75, xmax=22.9, ymin=3.4, ymax=16.3, xtick={5,10,15,20},
  ytick={4,8,12,16},
  xlabel={Time delay (ps)}, ylabel={ΔO.D. / 10\textsuperscript{-3}},
  label style={font=\fontsize{5.5}{6}\selectfont\bfseries},
  legend style={at={(0.306,0.96)}, anchor=north west, font=\fontsize{6}{7}\selectfont}]
\addplot[only marks, mark=o, mark size=1pt, mypink] coordinates {
(0.9,14.3) (1.1,13.7) (1.3,13.1) (1.5,12.4) (1.7,11.8) (1.9,11.1) (2.1,10.5)
(2.4,10.0) (2.7,9.6) (3.0,9.25) (3.4,8.95) (3.8,8.7) (4.2,8.5) (4.8,8.25) (5.4,8.0)
(6.0,7.85) (6.6,7.7) (7.4,7.55) (8.3,7.4) (9.1,7.3) (9.9,7.2) (11.1,7.12)
(12.4,7.05) (13.6,6.98) (14.8,6.93) (16,6.9) (17.3,6.9) (18.5,6.9) (19.8,6.9)
(21,6.9) (22.2,6.9)};
\addlegendentry{decay of ESA1}
\addplot[only marks, mark=*, mark size=1pt, myblue] coordinates {
(0.9,4.2) (1.3,4.5) (1.7,4.8) (2.1,5.3) (2.5,5.8) (2.9,6.25) (3.4,6.7) (3.8,7.2)
(4.2,7.7) (4.6,8.0) (5.0,8.3) (5.4,8.65) (5.8,9.0) (6.2,9.2) (6.6,9.4) (7.0,9.65)
(7.5,9.9) (8.1,10.2) (8.7,10.5) (9.5,10.85) (10.3,11.2) (11.3,11.5) (12.4,11.8)
(13.6,12.05) (14.8,12.3) (16,12.45) (17.3,12.6) (18.5,12.75) (19.8,12.95)
(21,13.05) (22.2,13.1)};
\addlegendentry{growth of ESA2}
\end{axis}

% ================= row 3 =================
\begin{axis}[mainax, at={(32.3pt,29.7pt)}, width=204.4pt, height=152.3pt,
  xmin=430, xmax=800, ymin=0, ymax=0.352, xtick={500,600,700,800},
  ytick={0,0.1,0.2,0.3}, minor y tick num=1,
  yticklabel style={/pgf/number format/.cd, fixed, fixed zerofill, precision=1},
  ylabel={ΔO.D.}]
\pgfplotsinvokeforeach{b1,b2,b3,b4,b5,b6,b7,b8,b9,b10}{\addplot[blk] table[x=x,y=#1]{\tabG};}
\addplot[bu] table[x=x,y=bl]{\tabG};
\end{axis}

\begin{axis}[insetax, at={(138.3pt,112pt)}, width=96.7pt, height=65pt,
  xmin=0, xmax=400, ymin=0, ymax=65, xtick={0,100,...,400}, ytick=\empty,
  xlabel={Time / μs}, ylabel={ΔO.D.},
  label style={font=\fontsize{5.5}{6}\selectfont\bfseries}]
\addplot[gray!60, line width=0.8pt] coordinates {(20,0) (20,65)};
\addplot[trace] coordinates {
(0,5) (4,4) (8,6) (12,4.5) (16,6) (19,5) (21,40) (22,53) (23,48) (25,47) (27,41)
(29,41) (31,36) (33,37) (35,33) (38,33) (41,29) (44,29) (47,25) (50,26) (54,22)
(58,23) (62,19) (66,19) (70,16) (75,17) (80,14) (85,14) (90,11) (96,12.5)
(102,9.5) (108,10.5) (114,8) (120,9.5) (127,7) (134,8.5) (141,6.5) (148,8)
(156,6) (164,7.5) (172,5.5) (180,7) (190,5) (200,6.8) (210,4.8) (220,6.5)
(230,4.5) (240,6.3) (250,4.3) (260,6.2) (270,4.2) (280,6) (290,4) (300,6)
(310,4) (320,5.8) (330,3.8) (340,5.8) (350,3.8) (360,5.6) (370,3.6) (380,5.6)
(390,3.6) (398,5)};
\end{axis}

\begin{axis}[mainax, at={(278.3pt,30.3pt)}, width=205pt, height=151.7pt,
  xmin=430, xmax=800, ymin=-0.137, ymax=0.318, xtick={500,600,700,800},
  ytick={-0.1,0,0.1,0.2,0.3}, minor y tick num=1,
  yticklabel style={/pgf/number format/.cd, fixed, fixed zerofill, precision=1},
  ylabel={ΔO.D.}]
\pgfplotsinvokeforeach{b1,b2,b3,b4,b5,b6,b7,b8,b9}{\addplot[blk] table[x=x,y=#1]{\tabH};}
\addplot[bu] table[x=x,y=bl]{\tabH};
\end{axis}

\begin{axis}[insetax, at={(385pt,109.7pt)}, width=97.3pt, height=67.3pt,
  xmin=-5, xmax=200, ymin=0, ymax=67.3, xtick={50,100,150,200}, ytick=\empty,
  xlabel={Time / μs}, ylabel={ΔO.D.},
  label style={font=\fontsize{5.5}{6}\selectfont\bfseries}]
\addplot[gray!60, line width=0.8pt] coordinates {(14,0) (14,67.3)};
\addplot[trace] coordinates {
(-4,3) (-2,8) (0,2) (2,4) (4,10) (6,2) (8,5) (10,3) (12,7) (13.5,3) (15,60.7)
(16,55) (18,48) (19.6,44) (21,40) (23,37) (25,32) (26.6,31) (28,27) (30,26)
(32,22) (33.6,23) (36,19) (38,20) (41,16) (44,17.5) (47.7,13) (50,15) (53,11)
(56,14) (59,10) (61.7,13) (65,9) (68,12) (72,8) (75,12) (79,7.5) (83,11) (87,7)
(91,11) (96.7,6.5) (100,10) (105,6) (110,11) (115,5.5) (120,10) (125,6) (130,10)
(135,5.5) (140,11) (145,6) (150,10) (155,5.5) (160,11) (165,6) (170,10)
(175,5.5) (180,11) (185,6) (190,10) (195,6) (198,9)};
\end{axis}

\begin{axis}[mainax, at={(525pt,30.3pt)}, width=205pt, height=151.7pt,
  xmin=410, xmax=800, ymin=0, ymax=0.15, xtick={500,600,700,800},
  ytick={0,0.05,0.1,0.15}, minor y tick num=1,
  yticklabel style={/pgf/number format/.cd, fixed, fixed zerofill, precision=2},
  ylabel={ΔO.D.}]
\pgfplotsinvokeforeach{b1,b2,b3,b4,b5,b6,b7}{\addplot[blk] table[x=x,y=#1]{\tabI};}
\addplot[bu] table[x=x,y=bl]{\tabI};
\end{axis}

\begin{axis}[insetax, at={(632.7pt,112pt)}, width=96.6pt, height=65.7pt,
  xmin=0, xmax=400, ymin=0, ymax=65.7, xtick={0,100,...,400}, ytick=\empty,
  xlabel={Time / μs}, ylabel={ΔO.D.},
  label style={font=\fontsize{5.5}{6}\selectfont\bfseries}]
\addplot[gray!60, line width=0.8pt] coordinates {(16.5,0) (16.5,65.7)};
\addplot[trace] coordinates {
(0,3) (4,4.5) (8,2.5) (12,4) (15,3) (17,30) (19,65) (21,58) (23,55) (25,50)
(27.6,45) (30,42) (33,37) (37,31.7) (41,29) (45,25) (51,21.7) (56,20) (62,17.5)
(72,15) (80,13) (90,11.5) (99,10) (110,9.5) (120,8) (130,8.5) (141,6.7) (152,7.5)
(165,5.8) (178,7) (190,5.2) (205,6.5) (220,4.8) (237,6.2) (250,4.5) (265,6)
(280,4.3) (295,5.8) (310,4.2) (325,5.7) (340,4) (355,5.6) (370,4) (385,5.5) (396,4.3)};
\end{axis}

% ================= annotations =================
% row 1
\node[ann, anchor=west] at (85pt,558pt) {1.5 ps};
\draw[arr] (92.7pt,552pt) -- (92.7pt,477pt);
\node[ann, anchor=west] at (88.3pt,472pt) {33 ps};
\node[sm] at (176.7pt,578pt) {\textbf{1b} fs-TRF};
\node[sm, anchor=west] at (185pt,548pt) {τ\textsubscript{1}= 1.28 ps};
\node[sm, anchor=west] at (185pt,538pt) {τ\textsubscript{2}= 13.8 ps};
\node[sm, anchor=west] at (183.5pt,525pt) {R\textsuperscript{2} = 0.99577};

\node[ann, anchor=west] at (291.7pt,567pt) {1.3 ps};
\draw[arr] (299.3pt,562pt) -- (299.3pt,460.3pt);
\node[ann, anchor=west] at (291.7pt,452.7pt) {23 ps};
\node[sm, anchor=west] at (396.7pt,578pt) {\textbf{2b} fs-TRF};
\node[sm, anchor=west] at (383.3pt,548pt) {τ\textsubscript{1} = 0.85 ps};
\node[sm, anchor=west] at (383.3pt,538pt) {τ\textsubscript{2} = 9.04 ps};
\node[sm, anchor=west] at (383.3pt,525.3pt) {R\textsuperscript{2} = 0.9979};

\node[ann, anchor=west] at (593.3pt,574.7pt) {1.4 ps};
\draw[arr, gray] (605pt,572pt) -- (605pt,482pt);
\node[ann, anchor=west] at (598.3pt,478.7pt) {23 ps};
\node[sm, anchor=west] at (630pt,578pt) {\textbf{3b} fs-TRF};
\node[sm, anchor=west] at (658.3pt,547pt) {τ\textsubscript{1}= 0.74 ps};
\node[sm, anchor=west] at (658.3pt,536.3pt) {τ\textsubscript{2}= 5.22 ps};
\node[sm, anchor=west] at (658.3pt,523pt) {R\textsuperscript{2} = 0.99909};

% row 2
\node[ann, anchor=west] at (35pt,377pt) {1.5 ps};
\draw[arr] (43.3pt,368.7pt) -- (43.3pt,353.7pt);
\node[ann, anchor=west] at (35pt,343.7pt) {33 ps};
\node[esa] at (65pt,347.7pt) {ESA1};
\node[esa] at (90.5pt,358.7pt) {ESA2};
\node[sm, font=\fontsize{7}{8}\selectfont\bfseries] at (168.3pt,373.7pt) {1b};
\node[xs, anchor=west] at (198.3pt,347.7pt) {τ\textsubscript{1} = 9.93 ps};
\node[xs, anchor=west] at (198.3pt,323.7pt) {τ\textsubscript{1} = 0.80 ps};
\node[xs, anchor=west] at (198.3pt,317pt) {τ\textsubscript{2} = 13.2 ps};

\node[ann, anchor=west] at (285pt,370.3pt) {2.5 ps};
\draw[arr] (291.7pt,358.7pt) -- (291.7pt,337pt);
\node[ann, anchor=west] at (285pt,328.7pt) {23 ps};
\node[esa] at (312pt,342pt) {ESA1};
\node[esa] at (368.3pt,292.7pt) {ESA2};
\node[sm, font=\fontsize{7.5}{8}\selectfont\bfseries] at (408.3pt,367pt) {2b};
\node[sm, font=\fontsize{6.5}{7}\selectfont, anchor=west] at (430pt,338.7pt) {τ\textsubscript{1} = 8.38 ps};
\node[sm, font=\fontsize{6.5}{7}\selectfont, anchor=west] at (430pt,313pt) {τ\textsubscript{1} = 4.64 ps};

\node[ann, anchor=west] at (535pt,367pt) {1.4 ps};
\draw[arr, gray] (546.7pt,360.3pt) -- (546.7pt,337pt);
\node[ann, anchor=west] at (536.7pt,326.3pt) {21.5 ps};
\node[esa] at (565pt,317.7pt) {ESA1};
\node[esa] at (605.7pt,344.3pt) {ESA2};
\node[sm, font=\fontsize{7.5}{8}\selectfont\bfseries] at (676.7pt,368.7pt) {3b};
\node[sm, font=\fontsize{6}{7}\selectfont, anchor=west] at (704.3pt,334.3pt) {τ\textsubscript{1} = 5.73 ps};
\node[sm, font=\fontsize{6}{7}\selectfont, anchor=west] at (704.3pt,313pt) {τ\textsubscript{1} = 0.63 ps};
\node[sm, font=\fontsize{6}{7}\selectfont, anchor=west] at (704.3pt,304.3pt) {τ\textsubscript{2} = 3.49 ps};

% row 3
\node[ann] at (61.7pt,164.3pt) {1 μs};
\draw[arr] (61pt,157pt) -- (61pt,127pt);
\node[ann] at (61.7pt,118pt) {91 μs};
\node[sm, font=\fontsize{8}{9}\selectfont\bfseries, anchor=west] at (168.3pt,163.7pt) {1b};
\node[sm, font=\fontsize{6.5}{7}\selectfont, anchor=west] at (168.3pt,154.7pt) {ΔO.D. at 538 nm};
\node[sm, font=\fontsize{6.5}{7}\selectfont, anchor=west] at (168.3pt,147pt) {τ\textsubscript{ESA} = 23.8 μs};

\node[ann] at (300pt,162pt) {1 μs};
\draw[arr] (300pt,150.3pt) -- (300pt,125.3pt);
\node[ann] at (303.3pt,115.3pt) {70 μs};
\node[sm, font=\fontsize{8}{9}\selectfont\bfseries, anchor=west] at (418.3pt,162pt) {2b};
\node[sm, font=\fontsize{6.5}{7}\selectfont, anchor=west] at (418.3pt,151pt) {ΔO.D. at 570 nm};
\node[sm, font=\fontsize{6.5}{7}\selectfont, anchor=west] at (418.3pt,140.3pt) {τ\textsubscript{ESA} = 13.6 μs};

\node[ann] at (548.3pt,164.3pt) {1 μs};
\draw[arr] (546.7pt,157pt) -- (546.7pt,115.3pt);
\node[ann] at (551.7pt,108.7pt) {71 μs};
\node[sm, font=\fontsize{8}{9}\selectfont\bfseries, anchor=west] at (666.7pt,161pt) {3b};
\node[sm, font=\fontsize{6.5}{7}\selectfont, anchor=west] at (666.7pt,151pt) {ΔO.D. at 567 nm};
\node[sm, font=\fontsize{6.5}{7}\selectfont, anchor=west] at (666.7pt,140.3pt) {τ\textsubscript{ESA} = 25.4 μs};
\end{tikzpicture}
\end{document}
